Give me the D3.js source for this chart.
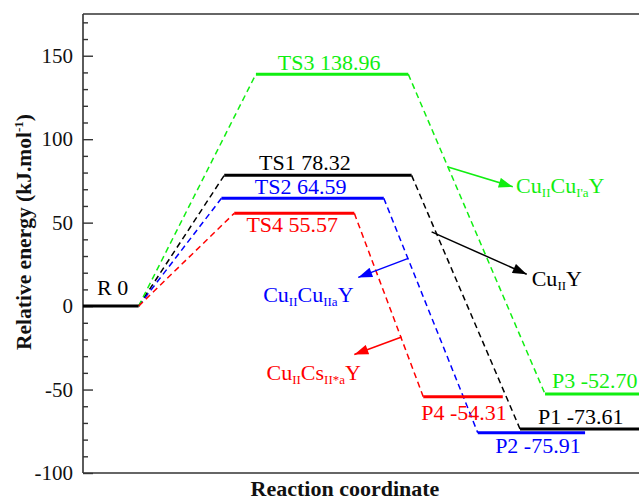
<!DOCTYPE html>
<html><head><meta charset="utf-8">
<script src="https://cdn.jsdelivr.net/npm/d3@7"></script>
<style>
html,body{margin:0;padding:0;background:#fff;}
</style></head>
<body>
<svg id="c" width="639" height="501"></svg>
<script>
// ---- data ----
const states   = ["R", "TS1", "TS2", "TS3", "TS4", "P1", "P2", "P3", "P4"];
const energies = [0, 78.32, 64.59, 138.96, 55.57, -73.61, -75.91, -52.70, -54.31];
const xStart   = [0, 2.54, 2.49, 3.11, 2.72, 7.86, 7.10, 8.31, 6.12];
const xEnd     = [1.0, 5.91, 5.41, 5.85, 4.88, 10.3, 9.03, 10.3, 7.55];
const stateColor = ["#000", "#000", "#0000ff", "#11ee11", "#ff0000", "#000", "#0000ff", "#11ee11", "#ff0000"];
const pathways = [
  {color: "#000",    states: ["R", "TS1", "P1"]},
  {color: "#0000ff", states: ["R", "TS2", "P2"]},
  {color: "#11ee11", states: ["R", "TS3", "P3"]},
  {color: "#ff0000", states: ["R", "TS4", "P4"]}
];
const yTicks = [-100, -50, 0, 50, 100, 150];
// annotation labels: [main, sub, main, sub, main]
const annotations = [
  {color: "#11ee11", parts: ["Cu", "II", "Cu", "I'a", "Y"], from: [6.565, 83.3], to: [7.73, 71.5], at: [7.79, 67.6]},
  {color: "#000",    parts: ["Cu", "II", "Y"],              from: [6.27, 44.5],  to: [7.98, 19.1], at: [8.07, 12.1]},
  {color: "#0000ff", parts: ["Cu", "II", "Cu", "IIa", "Y"], from: [5.85, 28.6],  to: [4.95, 17.2], at: [3.24, 2.5]},
  {color: "#ff0000", parts: ["Cu", "II", "Cs", "II*a", "Y"], from: [5.73, -18.5], to: [4.88, -29.0], at: [3.30, -44.0]}
];

const FONT = "'Liberation Serif', Tinos, 'Times New Roman', Times, 'Nimbus Roman', 'DejaVu Serif', 'Noto Serif', serif";

// ---- layout ----
const svg = d3.select("#c").attr("font-family", FONT).style("font-family", FONT);
const L = 83, T = 14, B = 473, R = 650;
const x = d3.scaleLinear().domain([0, 10]).range([L, L + 556]);
const y = d3.scaleLinear().domain([-100, 175]).range([B, T]);

const idx = Object.fromEntries(states.map((s, i) => [s, i]));

// frame
svg.append("line").attr("x1", L).attr("x2", R).attr("y1", T).attr("y2", T)
  .attr("stroke", "#333").attr("stroke-width", 1.6);
svg.append("line").attr("x1", L).attr("x2", R).attr("y1", B).attr("y2", B)
  .attr("stroke", "#333").attr("stroke-width", 1.6);

// y axis
const minor = d3.range(-100, 176, 10).filter(v => v % 50 !== 0);
const gMinor = svg.append("g").attr("transform", `translate(${L},0)`)
  .call(d3.axisLeft(y).tickValues(minor).tickSize(-5).tickFormat(""));
gMinor.select(".domain").remove();
gMinor.selectAll("line").attr("stroke", "#333").attr("stroke-width", 1.4);
const gAxis = svg.append("g").attr("transform", `translate(${L},0)`)
  .call(d3.axisLeft(y).tickValues(yTicks).tickSizeInner(-10).tickSizeOuter(0).tickPadding(10).tickFormat(d3.format("d")));
gAxis.attr("font-family", FONT);
gAxis.select(".domain").attr("stroke", "#333").attr("stroke-width", 1.6)
  .attr("d", `M0,${T}V${B}`);
gAxis.selectAll("line").attr("stroke", "#333").attr("stroke-width", 1.4);
gAxis.selectAll("text").attr("font-size", 21).attr("fill", "#111")
  .attr("font-family", FONT).style("font-family", FONT)
  .text(d => d < 0 ? "-" + Math.abs(d) : d);

// axis titles
const yt = svg.append("text").attr("transform", `translate(31,232) rotate(-90)`)
  .attr("text-anchor", "middle").attr("font-weight", "bold").attr("font-size", 21.5).attr("fill", "#111")
  .style("font-family", FONT);
yt.append("tspan").text("Relative energy (kJ.mol");
yt.append("tspan").attr("font-size", 13).attr("dy", -8).text("-1");
yt.append("tspan").attr("dy", 8).text(")");
svg.append("text").attr("x", 345).attr("y", 496).attr("text-anchor", "middle")
  .attr("font-weight", "bold").attr("font-size", 22).attr("fill", "#111")
  .style("font-family", FONT).text("Reaction coordinate");

// dashed connectors
pathways.forEach(p => {
  for (let k = 0; k < p.states.length - 1; k++) {
    const a = idx[p.states[k]], b = idx[p.states[k + 1]];
    svg.append("line")
      .attr("x1", x(xEnd[a])).attr("y1", y(energies[a]))
      .attr("x2", x(xStart[b])).attr("y2", y(energies[b]))
      .attr("stroke", p.color).attr("stroke-width", 1.5).attr("stroke-dasharray", "6,4");
  }
});

// levels
svg.selectAll("line.level").data(states).join("line").attr("class", "level")
  .attr("x1", (d, i) => x(xStart[i])).attr("x2", (d, i) => x(xEnd[i]))
  .attr("y1", (d, i) => y(energies[i])).attr("y2", (d, i) => y(energies[i]))
  .attr("stroke", (d, i) => stateColor[i]).attr("stroke-width", 3);

// level labels
const labelLayout = {
  R:   {anchor: "start",  dx: 14, dy: -11, ref: "start"},
  TS1: {anchor: "middle", dx: -13, dy: -5},
  TS2: {anchor: "middle", dx: -2, dy: -4},
  TS3: {anchor: "middle", dx: -3, dy: -4},
  TS4: {anchor: "middle", dx: -2, dy: 18.5},
  P1:  {anchor: "start",  dx: 18, dy: -5, ref: "start"},
  P2:  {anchor: "middle", dx: 6.5, dy: 20},
  P3:  {anchor: "start",  dx: 7, dy: -6, ref: "start"},
  P4:  {anchor: "middle", dx: 1, dy: 23}
};
const fmt = v => v === 0 ? "0" : (v < 0 ? "-" : "") + Math.abs(v).toFixed(2);
states.forEach((s, i) => {
  const lay = labelLayout[s];
  const bx = lay.ref === "start" ? x(xStart[i]) : (x(xStart[i]) + x(xEnd[i])) / 2;
  svg.append("text").attr("x", bx + lay.dx).attr("y", y(energies[i]) + lay.dy)
    .attr("text-anchor", lay.anchor).attr("font-size", 22).attr("fill", stateColor[i])
    .style("font-family", FONT)
    .text(s + " " + fmt(energies[i]));
});

// arrow markers
const defs = svg.append("defs");
annotations.forEach((a, k) => {
  defs.append("marker").attr("id", "ah" + k).attr("viewBox", "0 0 14 10")
    .attr("refX", 14).attr("refY", 5).attr("markerWidth", 15).attr("markerHeight", 10)
    .attr("markerUnits", "userSpaceOnUse").attr("orient", "auto")
    .append("path").attr("d", "M0,0L14,5L0,10Z").attr("fill", a.color);
});
annotations.forEach((a, k) => {
  svg.append("line")
    .attr("x1", x(a.from[0])).attr("y1", y(a.from[1]))
    .attr("x2", x(a.to[0])).attr("y2", y(a.to[1]))
    .attr("stroke", a.color).attr("stroke-width", 1.5).attr("marker-end", `url(#ah${k})`);
  const t = svg.append("text").attr("x", x(a.at[0])).attr("y", y(a.at[1]))
    .attr("font-size", 22).attr("fill", a.color).style("font-family", FONT);
  a.parts.forEach((p, j) => {
    const sub = j % 2 === 1;
    const ts = t.append("tspan").text(p);
    if (sub) ts.attr("font-size", 13).attr("dy", 4);
    else if (j > 0) ts.attr("dy", -4);
  });
});
</script>
</body></html>
